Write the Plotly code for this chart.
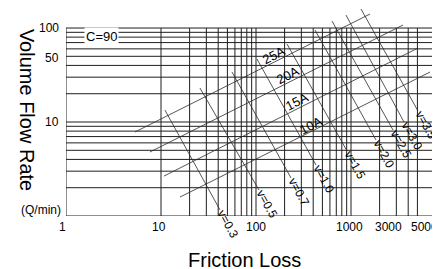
import math
import plotly.graph_objects as go

# ---------------- data ----------------
# grid values
x_grid = [10, 20, 30, 40, 50, 60, 70, 80, 90, 100, 200, 300, 400, 500, 600, 700, 800, 900,
          1000, 2000, 3000, 4000, 5000]
y_grid = [1, 2, 3, 4, 5, 6, 7, 8, 9, 10, 20, 30, 40, 50, 60, 70, 80, 90, 100]

# pipe-size lines (friction loss, flow) : start and end
pipe_names = ["25A", "20A", "15A", "10A"]
pipe_x0 = [5.33, 7.66, 10.75, 15.85]
pipe_y0 = [7.83, 4.80, 2.66, 1.59]
pipe_x1 = [1585, 3527, 5072, 6787]
pipe_y1 = [140.9, 107.6, 61.3, 34.0]
pipe_label_x = [151, 212, 270, 379]
pipe_label_y = [51.6, 31.6, 16.7, 9.29]

# velocity lines : top and bottom ends
vel_names = ["v=0.3", "v=0.5", "v=0.7", "v=1.0", "v=1.5", "v=2.0", "v=2.5", "v=3.0", "v=3.5"]
vel_x0 = [11.0, 25.7, 55.9, 102.4, 212, 418, 631, 885, 1274]
vel_y0 = [13.4, 23.0, 34.0, 46.8, 67.6, 95.2, 118.7, 137.4, 159.3]
vel_x1 = [41.8, 107.5, 233.6, 428, 908, 1833, 2767, 3614, 5072]
vel_y1 = [1.16, 1.89, 2.54, 3.49, 4.91, 6.44, 8.22, 10.0, 13.1]

x_ticks = [1, 10, 100, 1000, 3000, 5000]
x_tick_text = ["1", "10", "100", "1000", "3000", "5000"]
x_tick_shift = [-4, -2, 0, -2, -8, 7]
y_ticks = [10, 50, 100]
y_tick_text = ["10", "50", "100"]
y_tick_shift = [0, -2, 0]

X_RANGE_END = 4.021
Y_RANGE_END = 2.213
FONT = "Liberation Sans, Arial, Helvetica, sans-serif"

fig = go.Figure()

# grid (vertical lines end at the 100 line, horizontal run to the right edge)
gx, gy = [], []
for v in [1] + x_grid:
    gx += [v, v, None]
    gy += [1, 100, None]
for v in y_grid:
    gx += [1, 20000, None]
    gy += [v, v, None]
fig.add_trace(go.Scatter(x=gx, y=gy, mode="lines", line=dict(color="#1e1e1e", width=1),
                         hoverinfo="skip", showlegend=False))

# pipe lines
px_, py_ = [], []
for a, b, c, d in zip(pipe_x0, pipe_y0, pipe_x1, pipe_y1):
    px_ += [a, c, None]
    py_ += [b, d, None]
fig.add_trace(go.Scatter(x=px_, y=py_, mode="lines", line=dict(color="#2a2a2a", width=0.8),
                         hoverinfo="skip", showlegend=False))

# velocity lines
vx_, vy_ = [], []
for a, b, c, d in zip(vel_x0, vel_y0, vel_x1, vel_y1):
    vx_ += [a, c, None]
    vy_ += [b, d, None]
fig.add_trace(go.Scatter(x=vx_, y=vy_, mode="lines", line=dict(color="#2a2a2a", width=0.8),
                         hoverinfo="skip", showlegend=False))

ann = []
for name, x, y in zip(pipe_names, pipe_label_x, pipe_label_y):
    ann.append(dict(x=math.log10(x), y=math.log10(y), xref="x", yref="y", text=name,
                    showarrow=False, textangle=-27, xanchor="center", yanchor="middle",
                    font=dict(size=13, color="black", family=FONT)))
for name, x, y in zip(vel_names, vel_x1, vel_y1):
    ann.append(dict(x=math.log10(x), y=math.log10(y), xref="x", yref="y", text=name,
                    showarrow=False, textangle=61, xshift=8, yshift=-14,
                    xanchor="center", yanchor="middle",
                    font=dict(size=12, color="black", family=FONT)))
ann.append(dict(x=math.log10(5072), y=math.log10(13.1), xref="x", yref="y", text="(m/s)",
                showarrow=False, textangle=61, xshift=28, yshift=-2,
                xanchor="center", yanchor="middle",
                font=dict(size=12, color="black", family=FONT)))
ann.append(dict(x=math.log10(2.39), y=math.log10(82.2), xref="x", yref="y", text="C=90",
                showarrow=False, bgcolor="white", borderpad=1,
                xanchor="center", yanchor="middle",
                font=dict(size=13, color="black", family=FONT)))
for v, t, s in zip(x_ticks, x_tick_text, x_tick_shift):
    ann.append(dict(x=math.log10(v), y=0, xref="x", yref="paper", text=t, showarrow=False,
                    xanchor="center", yanchor="top", yshift=-2, xshift=s,
                    font=dict(size=12, color="black", family=FONT)))
for v, t, s in zip(y_ticks, y_tick_text, y_tick_shift):
    ann.append(dict(x=0, y=math.log10(v), xref="paper", yref="y", text=t, showarrow=False,
                    xanchor="right", yanchor="middle", xshift=-5, yshift=s,
                    font=dict(size=12, color="black", family=FONT)))
ann.append(dict(x=-0.0654, y=0.0288, xref="paper", yref="paper", text="(Q/min)",
                showarrow=False, xanchor="center", yanchor="middle",
                font=dict(size=12, color="black", family=FONT)))
ann.append(dict(x=-0.102, y=0.51, xref="paper", yref="paper",
                text="Volume Flow Rate", showarrow=False, textangle=90,
                xanchor="center", yanchor="middle",
                font=dict(size=20, color="black", family=FONT)))
ann.append(dict(x=0.466, y=-0.21, xref="paper", yref="paper",
                text="Friction Loss", showarrow=False, xanchor="center", yanchor="middle",
                font=dict(size=20, color="black", family=FONT)))

fig.update_layout(
    width=440, height=269,
    margin=dict(l=58, r=0, t=0, b=61),
    paper_bgcolor="white", plot_bgcolor="white",
    showlegend=False,
    annotations=ann,
    xaxis=dict(type="log", range=[0, X_RANGE_END], showgrid=False, zeroline=False,
               showline=False, showticklabels=False, ticks=""),
    yaxis=dict(type="log", range=[0, Y_RANGE_END], showgrid=False, zeroline=False,
               showline=False, showticklabels=False, ticks=""),
)

fig.write_html("out.html")
